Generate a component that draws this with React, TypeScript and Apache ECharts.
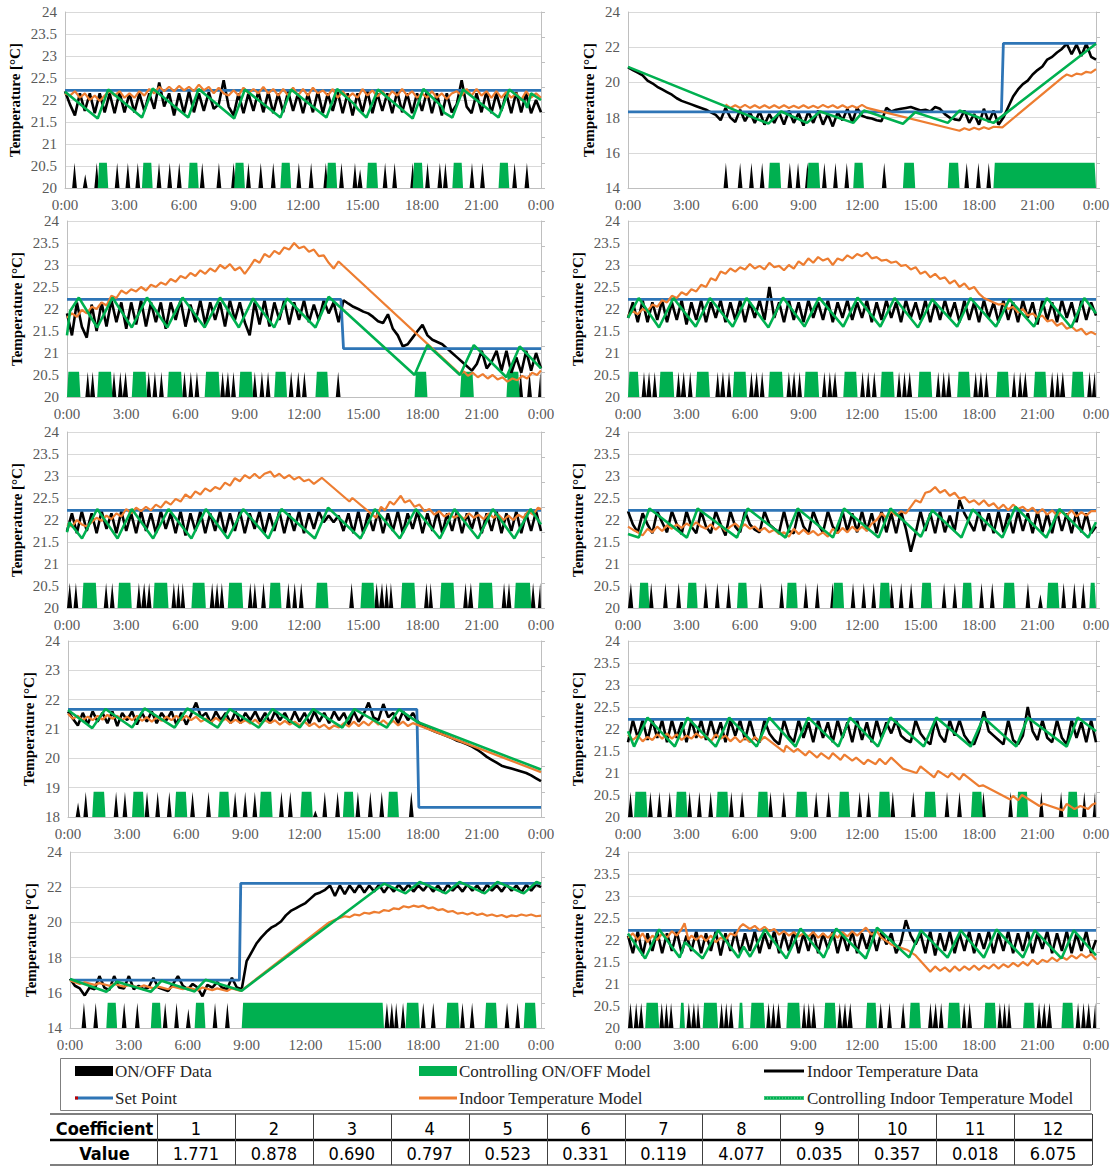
import React, { useEffect, useRef } from 'react';
import * as echarts from 'echarts';

// ---------------- DATA (hours 0..24) ----------------
// Black series: values every 0.25 h
const p1Black = [
  22.2, 21.9, 21.65, 22.15, 21.75, 22.15, 21.7, 22.15,
  21.72, 22.15, 21.7, 22.18, 21.72, 22.15, 21.72, 22.15,
  21.75, 22.15, 21.8, 22.4, 21.85, 22.15, 21.65, 22.15,
  21.7, 22.2, 21.72, 22.15, 21.75, 22.18, 21.8, 21.9,
  22.45, 21.85, 21.65, 22.15, 21.7, 22.15, 21.75, 22.2,
  21.72, 22.18, 21.7, 22.15, 21.72, 22.2, 21.75, 22.15,
  21.7, 22.15, 21.72, 22.2, 21.7, 22.15, 21.75, 22.18,
  21.7, 22.15, 21.65, 22.15, 21.72, 22.2, 21.7, 22.15,
  21.75, 22.15, 21.7, 22.2, 21.72, 22.15, 21.7, 22.15,
  21.75, 22.2, 21.7, 22.15, 21.65, 22.15, 21.72, 21.9,
  22.45, 21.85, 21.7, 22.15, 21.72, 22.2, 21.7, 22.15,
  21.75, 22.15, 21.7, 22.18, 21.72, 22.15, 21.7, 22.0,
  21.72,
];
const p2Black = [
  20.85, 20.7, 20.55, 20.4, 20.1, 19.95, 19.75, 19.6,
  19.45, 19.3, 19.1, 18.95, 18.85, 18.75, 18.65, 18.55,
  18.45, 18.3, 18.15, 17.85, 18.55, 18.0, 17.75, 18.45,
  17.8, 18.3, 17.7, 18.35, 17.6, 18.2, 17.7, 18.3,
  17.6, 18.4, 17.7, 18.25, 17.55, 18.35, 17.7, 18.4,
  17.6, 18.2, 17.5, 18.3, 17.85, 18.5, 17.75, 18.55,
  18.1, 18.0, 17.95, 17.85, 17.8, 18.55, 18.35, 18.45,
  18.5, 18.55, 18.6, 18.5, 18.4, 18.45, 18.35, 18.6,
  18.5, 18.2, 18.0, 17.9, 17.85, 18.4, 17.7, 18.2,
  17.6, 18.5, 17.75, 18.4, 17.6, 18.0, 18.6, 19.2,
  19.6, 19.9, 20.1, 20.45, 20.7, 20.9, 21.3, 21.45,
  21.7, 21.9, 22.2, 21.6, 22.15, 21.5, 22.2, 21.45,
  21.3,
];
const p3Black = [
  21.9, 21.4, 22.15, 21.6, 21.35, 22.1, 21.5, 22.15,
  21.6, 22.2, 21.7, 22.15, 21.55, 22.15, 21.65, 22.2,
  21.6, 22.15, 21.7, 22.15, 21.55, 22.15, 21.75, 22.2,
  21.6, 22.1, 21.7, 22.2, 21.65, 22.15, 21.75, 22.15,
  21.6, 22.2, 21.75, 22.15, 21.7, 21.4, 22.15, 21.65,
  22.2, 21.6, 22.15, 21.75, 22.2, 21.65, 22.15, 21.75,
  22.2, 21.7, 22.1, 21.75, 22.2, 21.9, 22.15, 21.7,
  22.2, 22.12, 22.05, 22.0, 21.94, 21.9, 21.82, 21.72,
  21.68, 21.88, 21.55, 21.4, 21.15, 21.2, 21.35, 21.5,
  21.64, 21.4, 21.3, 21.25, 21.2, 21.1, 21.0, 20.9,
  20.8, 20.7, 20.6, 20.75, 21.05, 20.65, 20.8, 21.05,
  20.6, 21.05, 20.55, 20.9, 20.55, 21.05, 20.6, 21.0,
  20.65,
];
const p4Black = [
  21.8, 22.15, 21.7, 22.2, 21.7, 22.15, 21.75, 22.2,
  21.7, 22.15, 21.75, 22.2, 21.65, 22.15, 21.75, 22.2,
  21.7, 22.15, 21.8, 22.2, 21.7, 22.15, 21.75, 22.2,
  21.7, 22.15, 21.8, 22.2, 21.75, 22.5, 21.8, 22.15,
  21.7, 22.2, 21.75, 22.15, 21.7, 22.2, 21.8, 22.15,
  21.75, 22.2, 21.7, 22.15, 21.8, 22.2, 21.75, 22.15,
  21.8, 22.2, 21.7, 22.15, 21.75, 22.2, 21.8, 22.15,
  21.7, 22.2, 21.8, 22.15, 21.75, 22.2, 21.7, 22.15,
  21.75, 22.2, 21.8, 22.15, 21.7, 22.2, 21.75, 22.15,
  21.7, 22.2, 21.8, 22.15, 21.7, 22.2, 21.75, 22.15,
  21.7, 22.2, 21.8, 22.15, 21.65, 22.2, 21.75, 22.15,
  21.7, 22.2, 21.8, 22.15, 21.7, 22.2, 21.75, 22.15,
  21.85,
];
const p5Black = [
  21.75, 22.15, 21.7, 22.2, 21.75, 22.15, 21.7, 22.2,
  21.8, 22.15, 21.7, 22.2, 21.75, 22.15, 21.7, 22.2,
  21.75, 22.15, 21.7, 22.2, 21.8, 22.15, 21.7, 22.2,
  21.65, 22.15, 21.75, 22.2, 21.7, 22.15, 21.75, 22.2,
  21.7, 22.15, 21.75, 22.2, 21.7, 22.15, 21.8, 22.2,
  21.7, 22.15, 21.75, 22.2, 21.7, 22.15, 21.75, 22.2,
  21.7, 22.15, 21.8, 22.2, 21.95, 22.1, 21.95, 22.1,
  21.75, 22.15, 21.7, 22.2, 21.7, 22.15, 21.75, 22.2,
  21.7, 22.15, 21.75, 22.2, 21.7, 22.15, 21.8, 22.2,
  21.7, 22.15, 21.75, 22.2, 21.7, 22.15, 21.75, 22.2,
  21.7, 22.15, 21.8, 22.2, 21.7, 22.15, 21.75, 22.2,
  21.7, 22.15, 21.75, 22.2, 21.7, 22.15, 21.75, 22.2,
  21.75,
];
const p6Black = [
  22.2, 21.9, 21.72, 22.15, 21.9, 21.7, 22.2, 21.95,
  21.72, 22.2, 21.9, 21.68, 22.2, 21.85, 21.7, 22.2,
  21.85, 21.7, 22.2, 21.9, 21.65, 22.2, 21.85, 21.72,
  22.2, 21.9, 21.78, 21.72, 22.2, 21.9, 21.8, 21.72,
  22.2, 21.75, 21.7, 22.2, 21.85, 21.7, 22.2, 21.9,
  21.72, 22.2, 21.85, 21.7, 22.2, 21.75, 22.15, 21.72,
  22.2, 21.75, 22.15, 21.7, 22.2, 21.72, 22.15, 21.7,
  22.2, 21.8, 21.28, 21.7, 22.2, 21.75, 22.15, 21.7,
  22.2, 21.72, 22.1, 21.75, 22.45, 22.15, 21.95, 21.75,
  22.2, 21.75, 22.15, 21.7, 22.2, 21.72, 22.15, 21.7,
  22.2, 21.75, 22.15, 21.7, 22.2, 21.72, 22.15, 21.7,
  22.2, 21.75, 22.15, 21.7, 22.2, 21.72, 22.15, 21.7,
  21.85,
];
const p7Black = [
  21.6, 21.35, 21.12, 21.55, 21.15, 21.6, 21.25, 21.55,
  21.2, 21.6, 21.1, 21.55, 21.3, 21.6, 21.15, 21.55,
  21.25, 21.6, 21.2, 21.55, 21.3, 21.6, 21.15, 21.55,
  21.15, 21.5, 21.9, 21.4, 21.55, 21.2, 21.6, 21.3,
  21.55, 21.2, 21.6, 21.2, 21.55, 21.3, 21.6, 21.25,
  21.55, 21.2, 21.6, 21.3, 21.55, 21.2, 21.6, 21.25,
  21.55, 21.2, 21.6, 21.25, 21.55, 21.2, 21.6, 21.3,
  21.55, 21.15, 21.6, 21.25, 21.5, 21.9, 21.4, 21.3,
  21.85, 21.4, 21.55, 21.2, 21.6, 21.3, 21.55, 21.25,
  21.1, 21.02, 20.95, 20.88, 20.82, 20.75, 20.68, 20.6,
  20.55, 20.48, 20.4, 20.3, 20.18, 20.05, 19.95, 19.85,
  19.75, 19.7, 19.65, 19.6, 19.55, 19.5, 19.42, 19.32,
  19.22,
];
const p8Black = [
  21.7, 22.2, 21.8, 22.2, 21.75, 22.2, 21.8, 22.2,
  21.7, 22.2, 21.8, 22.15, 21.7, 22.2, 21.8, 22.2,
  21.75, 22.2, 21.8, 22.15, 21.7, 22.2, 21.85, 22.2,
  21.75, 22.2, 21.8, 21.7, 22.2, 21.9, 21.75, 21.65,
  22.2, 21.85, 21.7, 22.2, 21.8, 22.15, 21.7, 22.2,
  21.8, 22.15, 21.7, 22.2, 21.8, 22.15, 21.7, 22.2,
  21.75, 22.15, 21.7, 22.2, 21.8, 22.15, 21.9, 22.2,
  21.85, 21.75, 21.7, 22.2, 21.9, 21.75, 21.65, 22.2,
  21.85, 21.7, 22.2, 21.85, 22.2, 21.85, 21.7, 21.65,
  21.95, 22.4, 21.95, 21.85, 21.75, 21.65, 22.2, 21.75,
  21.65, 21.85, 22.5, 21.95, 21.75, 22.2, 21.8, 21.7,
  22.2, 21.8, 21.65, 22.2, 21.8, 22.15, 21.7, 22.2,
  21.7,
];
const p9Black = [
  16.8, 16.4, 16.25, 15.85, 16.3, 16.2, 16.95, 16.3,
  16.15, 16.95, 16.3, 16.25, 16.95, 16.2, 16.4, 16.2,
  16.3, 16.85, 16.3, 16.2, 16.1, 16.5, 16.95, 16.4,
  16.2, 16.5, 16.3, 15.8, 16.45, 16.3, 16.6, 16.3,
  16.2, 16.85, 16.3, 16.2, 17.8, 18.3, 18.8, 19.15,
  19.45, 19.7, 19.85, 20.05, 20.4, 20.65, 20.8, 20.95,
  21.1, 21.35, 21.6, 21.7, 21.85, 22.1, 21.5, 22.1,
  21.6, 22.1, 21.7, 22.15, 21.7, 22.1, 21.75, 22.15,
  21.7, 22.1, 21.75, 22.15, 21.8, 22.15, 21.75, 22.1,
  21.8, 22.15, 21.75, 22.1, 21.7, 22.15, 21.8, 22.1,
  21.75, 22.15, 21.8, 22.1, 21.7, 22.15, 21.8, 22.1,
  21.75, 22.15, 21.8, 22.1, 21.7, 22.15, 21.8, 22.15,
  22.0,
];
const p10Black = [
  22.1, 21.7, 22.2, 21.65, 22.15, 21.75, 22.2, 21.7,
  22.15, 21.75, 22.2, 21.7, 22.1, 21.75, 22.2, 21.7,
  22.15, 21.75, 22.2, 21.65, 22.15, 21.75, 22.2, 21.7,
  22.15, 21.75, 22.2, 21.7, 22.15, 21.8, 22.2, 21.7,
  22.15, 21.75, 22.2, 21.7, 22.15, 21.75, 22.2, 21.7,
  22.15, 21.8, 22.2, 21.7, 22.15, 21.75, 22.2, 21.7,
  22.15, 21.8, 22.2, 21.75, 22.2, 21.9, 22.15, 21.7,
  21.95, 22.45, 22.1, 21.9, 22.15, 21.7, 22.2, 21.65,
  22.15, 21.75, 22.2, 21.7, 22.15, 21.75, 22.2, 21.7,
  22.15, 21.8, 22.2, 21.7, 22.15, 21.75, 22.2, 21.7,
  22.15, 21.75, 22.2, 21.7, 22.15, 21.8, 22.2, 21.7,
  22.15, 21.75, 22.2, 21.7, 22.15, 21.75, 22.2, 21.7,
  22.0,
];

// Orange (Indoor Temperature Model)
const p1Orange = [
  22.15, 22.1, 22.2, 22.05, 22.15, 22.0, 22.1, 21.98,
  22.1, 22.2, 22.1, 22.2, 22.05, 22.15, 22.05, 22.2,
  22.1, 22.25, 22.15, 22.3, 22.2, 22.3, 22.2, 22.32,
  22.22, 22.3, 22.2, 22.35, 22.22, 22.3, 22.15, 22.28,
  22.15, 22.1, 22.22, 22.1, 22.28, 22.15, 22.25, 22.15,
  22.3, 22.15, 22.25, 22.1, 22.25, 22.1, 22.28, 22.1,
  22.25, 22.1, 22.28, 22.15, 22.22, 22.1, 22.25, 22.05,
  22.2, 22.05, 22.15, 22.05, 22.25, 22.1, 22.22, 22.08,
  22.2, 22.05, 22.2, 22.1, 22.25, 22.1, 22.2, 22.05,
  22.15, 22.05, 22.2, 22.05, 22.15, 22.02, 22.15, 22.2,
  22.1, 22.25, 22.1, 22.25, 22.1, 22.2, 22.05, 22.2,
  22.05, 22.18, 22.05, 22.15, 22.0, 22.2, 22.05, 22.15,
  22.05,
];
const p2Orange = [
  [5, 18.75], [5.25, 18.55], [5.5, 18.7], [5.75, 18.55], [6, 18.72], [6.25, 18.55], [6.5, 18.7], [6.75, 18.55],
  [7, 18.7], [7.25, 18.55], [7.5, 18.7], [7.75, 18.55], [8, 18.7], [8.25, 18.55], [8.5, 18.68], [8.75, 18.55],
  [9, 18.7], [9.25, 18.55], [9.5, 18.68], [9.75, 18.55], [10, 18.72], [10.25, 18.58], [10.5, 18.7], [10.75, 18.55],
  [11, 18.7], [11.25, 18.55], [11.5, 18.68], [11.75, 18.55], [12, 18.72], [12.25, 18.55], [17, 17.25], [17.25, 17.4],
  [17.5, 17.3], [17.75, 17.42], [18, 17.32], [18.25, 17.45], [18.5, 17.35], [18.75, 17.48], [19.2, 17.45], [22.3, 20.3],
  [22.5, 20.45], [22.75, 20.35], [23, 20.5], [23.25, 20.45], [23.5, 20.6], [23.75, 20.55], [24, 20.75],
];
const p3Orange = [
  [0, 21.8], [0.25, 21.9], [0.5, 21.82], [0.75, 21.98], [1, 21.9], [1.25, 22.05], [1.5, 22.0], [1.75, 22.15],
  [2, 22.08], [2.25, 22.3], [2.5, 22.25], [2.75, 22.42], [3, 22.35], [3.25, 22.45], [3.5, 22.4], [3.75, 22.5],
  [4, 22.42], [4.25, 22.55], [4.5, 22.5], [4.75, 22.6], [5, 22.55], [5.25, 22.68], [5.5, 22.62], [5.75, 22.75],
  [6, 22.7], [6.25, 22.82], [6.5, 22.75], [6.75, 22.88], [7, 22.8], [7.25, 22.92], [7.5, 22.85], [7.75, 23.0],
  [8, 22.92], [8.25, 23.02], [8.5, 22.88], [8.75, 22.95], [9, 22.8], [9.25, 22.95], [9.5, 23.12], [9.75, 23.05],
  [10, 23.25], [10.25, 23.18], [10.5, 23.32], [10.75, 23.25], [11, 23.4], [11.25, 23.35], [11.5, 23.5], [11.75, 23.38],
  [12, 23.42], [12.25, 23.3], [12.5, 23.35], [12.75, 23.2], [13, 23.22], [13.25, 23.05], [13.5, 22.92], [13.75, 23.08],
  [19.9, 20.52], [20.1, 20.58], [20.3, 20.48], [20.55, 20.55], [20.8, 20.45], [21.05, 20.52], [21.3, 20.42], [21.55, 20.5],
  [21.8, 20.4], [22.05, 20.45], [22.3, 20.35], [22.55, 20.42], [22.8, 20.38], [23.05, 20.48], [23.3, 20.42], [23.55, 20.55],
  [23.8, 20.5], [24, 20.6],
];
const p4Orange = [
  21.85, 21.95, 21.88, 22.0, 21.95, 22.1, 22.05, 22.2,
  22.15, 22.3, 22.25, 22.38, 22.32, 22.45, 22.4, 22.55,
  22.5, 22.7, 22.65, 22.85, 22.8, 22.92, 22.85, 22.95,
  22.9, 23.02, 22.92, 22.98, 22.9, 23.05, 22.95, 22.98,
  22.88, 23.0, 22.92, 23.08, 23.0, 23.15, 23.05, 23.18,
  23.1, 23.15, 23.0, 23.15, 23.1, 23.22, 23.15, 23.25,
  23.2, 23.28, 23.15, 23.18, 23.1, 23.12, 23.05, 23.08,
  22.98, 23.0, 22.9, 22.95, 22.8, 22.85, 22.72, 22.8,
  22.68, 22.72, 22.58, 22.65, 22.5, 22.58, 22.45, 22.5,
  22.35, 22.25, 22.2, 22.15, 22.1, 22.12, 22.0, 22.05,
  21.92, 22.0, 21.85, 21.9, 21.8, 21.85, 21.72, 21.75,
  21.62, 21.68, 21.55, 21.6, 21.5, 21.55, 21.42, 21.48,
  21.42,
];
const p5Orange = [
  [0, 21.9], [0.25, 21.85], [0.5, 22.0], [0.75, 21.9], [1, 21.85], [1.25, 21.95], [1.5, 22.05], [1.75, 21.98],
  [2, 22.1], [2.25, 22.02], [2.5, 22.15], [2.75, 22.08], [3, 22.25], [3.25, 22.15], [3.5, 22.28], [3.75, 22.2],
  [4, 22.3], [4.25, 22.22], [4.5, 22.35], [4.75, 22.28], [5, 22.42], [5.25, 22.35], [5.5, 22.48], [5.75, 22.42],
  [6, 22.58], [6.25, 22.5], [6.5, 22.65], [6.75, 22.58], [7, 22.72], [7.25, 22.65], [7.5, 22.75], [7.75, 22.7],
  [8, 22.85], [8.25, 22.78], [8.5, 22.95], [8.75, 22.88], [9, 23.02], [9.25, 22.95], [9.5, 23.05], [9.75, 22.95],
  [10, 23.05], [10.3, 23.1], [10.5, 22.98], [10.75, 23.05], [11, 22.95], [11.25, 23.02], [11.5, 22.92], [11.75, 22.98],
  [12, 22.88], [12.25, 22.92], [12.5, 22.82], [12.9, 22.96], [14.3, 22.42], [14.45, 22.5], [15.65, 22.05], [15.9, 22.3],
  [16.1, 22.22], [16.35, 22.42], [16.55, 22.35], [16.9, 22.55], [17.1, 22.4], [17.35, 22.45], [17.6, 22.3], [17.85, 22.35],
  [18.1, 22.2], [18.35, 22.25], [18.6, 22.12], [18.85, 22.2], [19.1, 22.08], [19.35, 22.15], [19.6, 22.05], [19.85, 22.12],
  [20.1, 22.02], [20.35, 22.15], [20.6, 22.05], [20.85, 22.12], [21.1, 22.02], [21.35, 22.15], [21.6, 22.05], [21.85, 22.12],
  [22.1, 22.0], [22.35, 22.1], [22.6, 22.0], [22.85, 22.12], [23.1, 22.05], [23.35, 22.2], [23.6, 22.12], [23.85, 22.28],
  [24, 22.25],
];
const p6Orange = [
  21.85, 21.78, 21.72, 21.65, 21.8, 21.72, 21.85, 21.75,
  21.88, 21.8, 21.9, 21.82, 21.92, 21.85, 21.95, 21.85,
  21.8, 21.9, 21.78, 21.88, 21.75, 21.85, 21.92, 21.82,
  21.9, 21.8, 21.85, 21.75, 21.82, 21.72, 21.78, 21.68,
  21.72, 21.62, 21.8, 21.68, 21.78, 21.68, 21.75, 21.65,
  21.72, 21.62, 21.8, 21.7, 21.82, 21.72, 21.85, 21.75,
  21.85, 21.75, 21.92, 22.0, 22.15, 22.05, 22.2, 22.1,
  22.2, 22.15, 22.3, 22.45, 22.4, 22.62, 22.65, 22.75,
  22.62, 22.68, 22.55, 22.62, 22.48, 22.52, 22.4, 22.45,
  22.35, 22.45, 22.32, 22.38, 22.25, 22.35, 22.22, 22.35,
  22.25, 22.3, 22.2, 22.28, 22.15, 22.25, 22.12, 22.22,
  22.1, 22.2, 22.1, 22.22, 22.08, 22.18, 22.1, 22.2,
  22.2,
];
const p7Orange = [
  [0, 21.52], [0.25, 21.35], [0.5, 21.45], [0.75, 21.3], [1, 21.42], [1.25, 21.3], [1.5, 21.45], [1.75, 21.32],
  [2, 21.48], [2.25, 21.35], [2.5, 21.45], [2.75, 21.3], [3, 21.42], [3.25, 21.3], [3.5, 21.45], [3.75, 21.28],
  [4, 21.4], [4.25, 21.25], [4.5, 21.4], [4.75, 21.28], [5, 21.42], [5.25, 21.3], [5.5, 21.45], [5.75, 21.3],
  [6, 21.45], [6.25, 21.3], [6.5, 21.42], [6.75, 21.25], [7, 21.35], [7.25, 21.22], [7.5, 21.38], [7.75, 21.25],
  [8, 21.35], [8.25, 21.2], [8.5, 21.32], [8.75, 21.2], [9, 21.3], [9.25, 21.18], [9.5, 21.32], [9.75, 21.15],
  [10, 21.3], [10.25, 21.2], [10.5, 21.3], [10.75, 21.15], [11, 21.28], [11.25, 21.15], [11.5, 21.25], [11.75, 21.12],
  [12, 21.25], [12.25, 21.1], [12.5, 21.2], [12.75, 21.05], [13, 21.15], [13.25, 21.0], [13.5, 21.12], [13.75, 21.05],
  [14, 21.2], [14.25, 21.08], [14.5, 21.25], [14.75, 21.1], [15, 21.25], [15.25, 21.12], [15.5, 21.3], [15.75, 21.15],
  [16, 21.3], [16.25, 21.15], [16.5, 21.28], [16.75, 21.12], [17, 21.25], [17.25, 21.1], [17.5, 21.2], [17.7, 21.15],
  [24, 19.53],
];
const p8Orange = [
  [0, 21.87], [0.25, 21.75], [0.5, 21.85], [0.75, 21.72], [1, 21.82], [1.25, 21.75], [1.5, 21.88], [1.75, 21.78],
  [2, 21.9], [2.25, 21.78], [2.5, 21.88], [2.75, 21.75], [3, 21.85], [3.25, 21.78], [3.5, 21.9], [3.75, 21.8],
  [4, 21.85], [4.25, 21.72], [4.5, 21.88], [4.75, 21.78], [5, 21.85], [5.25, 21.72], [5.5, 21.82], [5.75, 21.7],
  [6, 21.8], [6.25, 21.7], [6.5, 21.82], [6.75, 21.72], [7, 21.82], [7.5, 21.65], [8, 21.48], [8.1, 21.62],
  [8.5, 21.48], [8.7, 21.55], [9.1, 21.4], [9.3, 21.5], [9.7, 21.35], [9.9, 21.45], [10.3, 21.32], [10.5, 21.45],
  [10.9, 21.3], [11.1, 21.42], [11.5, 21.28], [11.7, 21.35], [12.1, 21.2], [12.3, 21.3], [12.7, 21.2], [12.9, 21.32],
  [13.2, 21.2], [13.5, 21.35], [14.1, 21.1], [14.8, 21.0], [15.0, 21.15], [15.7, 20.9], [15.9, 21.05], [16.4, 20.9],
  [16.6, 21.0], [17.0, 20.85], [17.2, 20.98], [18.0, 20.7], [18.2, 20.72], [19.6, 20.4], [19.75, 20.48], [20.0, 20.38],
  [20.2, 20.5], [21.1, 20.25], [21.3, 20.3], [22.3, 20.15], [22.5, 20.3], [22.9, 20.18], [23.2, 20.25], [23.6, 20.18],
  [23.8, 20.28], [24, 20.32],
];
const p9Orange = [
  [0, 16.7], [0.5, 16.5], [0.75, 16.6], [1.25, 16.45], [1.5, 16.55], [2, 16.4], [2.25, 16.5], [2.75, 16.35],
  [3, 16.45], [3.5, 16.3], [3.75, 16.42], [4.25, 16.25], [4.5, 16.35], [5, 16.2], [5.25, 16.35], [5.75, 16.2],
  [6, 16.3], [6.5, 16.15], [6.75, 16.3], [7.25, 16.15], [7.5, 16.25], [8, 16.1], [8.25, 16.25], [8.7, 16.1],
  [13.2, 20.0], [13.5, 20.15], [13.75, 20.25], [14, 20.35], [14.25, 20.3], [14.5, 20.45], [14.75, 20.4], [15, 20.55],
  [15.25, 20.5], [15.5, 20.6], [15.75, 20.55], [16, 20.7], [16.25, 20.65], [16.5, 20.8], [16.75, 20.75], [17, 20.92],
  [17.25, 20.85], [17.5, 20.95], [17.75, 20.88], [18, 20.95], [18.25, 20.8], [18.5, 20.85], [18.75, 20.7], [19, 20.75],
  [19.25, 20.6], [19.5, 20.65], [19.75, 20.5], [20, 20.55], [20.25, 20.45], [20.5, 20.55], [20.75, 20.42], [21, 20.5],
  [21.25, 20.38], [21.5, 20.45], [21.75, 20.35], [22, 20.42], [22.25, 20.3], [22.5, 20.4], [22.75, 20.35], [23, 20.45],
  [23.25, 20.38], [23.5, 20.45], [23.75, 20.35], [24, 20.38],
];
const p10Orange = [
  [0, 22.05], [0.25, 22.15], [0.5, 22.0], [0.75, 22.15], [1, 21.95], [1.25, 22.1], [1.5, 22.0], [1.75, 22.15],
  [2, 22.05], [2.25, 22.2], [2.5, 22.1], [2.75, 22.25], [2.9, 22.38], [3.1, 22.0], [3.25, 22.1], [3.5, 22.0],
  [3.75, 22.1], [4, 21.98], [4.25, 22.1], [4.5, 21.95], [4.75, 22.05], [5, 22.0], [5.25, 22.15], [5.5, 22.1],
  [5.75, 22.3], [5.9, 22.36], [6.25, 22.25], [6.5, 22.32], [6.75, 22.22], [7, 22.3], [7.25, 22.2], [7.5, 22.25],
  [7.75, 22.12], [8, 22.2], [8.25, 22.1], [8.5, 22.18], [8.75, 22.08], [9, 22.15], [9.25, 22.08], [9.5, 22.18],
  [9.75, 22.05], [10, 22.15], [10.25, 22.05], [10.5, 22.15], [10.75, 22.05], [11, 22.18], [11.25, 22.08], [11.5, 22.2],
  [11.75, 22.1], [12, 22.2], [12.2, 22.28], [12.5, 22.12], [12.75, 22.2], [13, 22.05], [13.5, 21.9], [13.75, 21.85],
  [14, 21.82], [14.3, 21.78], [14.75, 21.65], [15.5, 21.28], [15.75, 21.4], [16, 21.3], [16.25, 21.38], [16.5, 21.28],
  [16.75, 21.4], [17, 21.3], [17.25, 21.4], [17.5, 21.32], [17.75, 21.42], [18, 21.32], [18.25, 21.42], [18.5, 21.35],
  [18.75, 21.45], [19, 21.35], [19.25, 21.45], [19.5, 21.38], [19.75, 21.48], [20, 21.4], [20.25, 21.5], [20.5, 21.42],
  [20.75, 21.55], [21, 21.45], [21.25, 21.55], [21.5, 21.5], [21.75, 21.6], [22, 21.52], [22.25, 21.62], [22.5, 21.55],
  [22.75, 21.65], [23, 21.58], [23.25, 21.68], [23.5, 21.6], [23.75, 21.68], [24, 21.55],
];

// Green (Controlling Indoor Temperature Model) vertices
const p1Green = [[0, 22.19], [1.65, 21.58], [2.18, 22.24], [3.88, 21.6], [4.42, 22.26], [6.21, 21.6], [6.74, 22.25], [8.53, 21.58], [9.07, 22.24], [10.86, 21.6], [11.4, 22.24], [13.18, 21.6], [13.72, 22.25], [14.6, 21.9], [14.75, 21.8], [15.2, 21.6], [15.78, 22.24], [17.53, 21.58], [18.07, 22.25], [19.0, 21.85], [19.1, 21.72], [19.53, 21.6], [20.07, 22.24], [21.86, 21.6], [22.4, 22.24], [23.2, 21.95], [23.3, 21.82], [23.5, 22.15], [24, 22.0]];
const p2Green = [[0, 20.88], [7.2, 17.66], [7.85, 18.35], [9.18, 17.7], [9.85, 18.35], [11.55, 17.7], [12.1, 18.4], [14.1, 17.65], [14.73, 18.3], [16.4, 17.7], [17.0, 18.4], [18.74, 17.7], [24, 22.2]];
const p3Green = [[0, 21.4], [0.15, 21.95], [0.6, 22.26], [1.53, 21.58], [2.3, 22.26], [3.28, 21.58], [4.05, 22.26], [5.08, 21.58], [5.85, 22.26], [6.97, 21.58], [7.75, 22.26], [8.7, 21.58], [9.42, 22.24], [10.49, 21.58], [11.14, 22.24], [12.58, 21.58], [13.25, 22.28], [17.6, 20.5], [18.25, 21.18], [19.9, 20.5], [20.6, 21.18], [22.25, 20.45], [22.92, 21.15], [24, 20.65]];
const p4Green = [[0, 21.8], [0.55, 22.25], [1.59, 21.58], [2.33, 22.25], [3.47, 21.6], [4.2, 22.25], [5.37, 21.6], [6.08, 22.25], [7.2, 21.58], [7.95, 22.26], [9.05, 21.6], [9.8, 22.26], [11.04, 21.6], [11.77, 22.26], [12.94, 21.6], [13.67, 22.25], [14.87, 21.58], [15.6, 22.22], [16.88, 21.6], [17.56, 22.25], [18.87, 21.6], [19.56, 22.22], [20.82, 21.6], [21.48, 22.25], [22.73, 21.58], [23.4, 22.25], [24, 21.9]];
const p5Green = [[0, 21.72], [0.12, 21.95], [0.76, 21.58], [1.53, 22.25], [2.56, 21.58], [3.28, 22.25], [4.36, 21.58], [5.14, 22.25], [6.3, 21.58], [7.03, 22.25], [8.14, 21.58], [8.92, 22.25], [10.2, 21.58], [10.86, 22.25], [12.55, 21.58], [13.22, 22.28], [14.86, 21.58], [15.59, 22.25], [16.85, 21.58], [17.66, 22.25], [18.88, 21.58], [19.62, 22.25], [20.81, 21.58], [21.56, 22.25], [22.65, 21.58], [23.48, 22.25], [24, 21.9]];
const p6Green = [[0, 21.68], [0.55, 21.6], [1.1, 22.26], [3.02, 21.6], [3.57, 22.26], [5.59, 21.6], [6.14, 22.26], [8.08, 21.6], [8.7, 22.26], [10.51, 21.6], [11.08, 22.26], [12.85, 21.6], [13.46, 22.26], [15.02, 21.62], [15.6, 22.22], [17.1, 21.6], [17.67, 22.24], [19.2, 21.6], [19.87, 22.3], [21.45, 21.6], [22.12, 22.25], [23.6, 21.6], [24, 21.95]];
const p7Green = [[0, 21.65], [1.23, 21.03], [1.9, 21.68], [3.25, 21.05], [3.88, 21.7], [5.41, 21.05], [6.05, 21.7], [7.6, 21.05], [8.21, 21.68], [9.68, 21.05], [10.38, 21.68], [11.76, 21.05], [12.44, 21.68], [13.92, 21.05], [14.53, 21.68], [16.18, 21.05], [16.79, 21.67], [17.7, 21.25], [24, 19.62]];
const p8Green = [[0, 21.95], [0.31, 21.6], [1.0, 22.26], [2.4, 21.6], [3.05, 22.26], [4.5, 21.6], [5.19, 22.26], [6.6, 21.6], [7.25, 22.26], [8.59, 21.6], [9.25, 22.26], [10.79, 21.6], [11.39, 22.26], [12.82, 21.6], [13.46, 22.26], [15.17, 21.6], [15.81, 22.26], [17.57, 21.6], [18.23, 22.26], [19.91, 21.6], [20.5, 22.26], [22.5, 21.6], [23.06, 22.26], [24, 21.95]];
const p9Green = [[0, 16.78], [1.85, 16.06], [2.4, 16.63], [4.12, 16.06], [4.66, 16.68], [6.35, 16.08], [6.9, 16.74], [8.75, 16.12], [16.0, 22.2], [17.1, 21.65], [17.82, 22.3], [19.15, 21.65], [19.85, 22.3], [21.13, 21.65], [21.78, 22.3], [23.12, 21.65], [23.77, 22.3], [24, 22.2]];
const p10Green = [[0, 22.15], [0.88, 21.58], [1.6, 22.24], [2.65, 21.6], [2.92, 21.95], [3.83, 21.58], [4.62, 22.22], [5.66, 21.6], [5.93, 21.85], [6.26, 21.62], [7.03, 22.24], [8.12, 21.58], [8.85, 22.26], [10.04, 21.6], [10.68, 22.26], [12.19, 21.58], [12.77, 22.28], [14.42, 21.6], [15.02, 22.22], [16.39, 21.6], [17.06, 22.22], [18.25, 21.6], [18.89, 22.24], [20.26, 21.6], [20.86, 22.22], [22.23, 21.58], [22.86, 22.22], [24, 21.65]];

// Set points
const spConstant = [[0, 22.22], [24, 22.22]];
const p2Set = [[0, 18.33], [19.15, 18.33], [19.25, 22.22], [24, 22.22]];
const p3Set = [[0, 22.22], [13.87, 22.22], [14.0, 21.1], [24, 21.1]];
const p7Set = [[0, 21.67], [17.7, 21.67], [17.8, 18.33], [24, 18.33]];
const p9Set = [[0, 16.72], [8.63, 16.72], [8.7, 22.22], [24, 22.22]];

// ON/OFF Data: ON moments (hour) or [hour, fraction of ON]
const p1Spikes = [0.48, [1.02, 0.55], 1.6, 2.63, 3.17, 3.67, 4.74, 5.28, 5.76, 6.92, 7.76, 8.5, 9.25, 9.87, 10.5, 11.79, 12.41, 13.15, 13.94, 14.62, [14.88, 0.75], 16.14, 16.62, 17.53, 18.28, 18.9, 19.18, 20.52, 21.05, 22.67, 23.29];
const p2Spikes = [5.02, 5.75, 6.33, 6.88, 8.3, 8.72, 9.2, 10.07, 10.64, 11.22, 13.14, 17.37, 17.97, 18.5];
const p3Spikes = [0.27, 1.05, 1.3, 2.38, 2.7, 2.97, 4.14, 4.45, 4.78, 5.95, 6.27, 6.58, 7.88, 8.15, 8.43, 9.51, 9.87, 10.18, 11.35, 11.71, 12.02, 13.73, 22.97, 23.42, 23.97];
const p4Spikes = [0.82, 1.08, 1.37, 2.59, 2.86, 3.19, 4.6, 4.87, 5.18, 6.33, 6.6, 6.88, 8.25, 8.52, 8.8, 10.07, 10.35, 10.62, 12.03, 12.32, 12.63, 13.9, 14.18, 14.45, 15.91, 16.19, 16.46, 17.83, 18.1, 18.38, 19.8, 20.11, 20.38, 21.75, 22.03, 22.3, 23.67, 23.94];
const p5Spikes = [0.14, 0.45, 1.98, 2.29, 3.64, 3.91, 4.16, 5.41, 5.64, 5.86, 7.35, 7.6, 7.84, 9.28, 9.51, 9.95, 11.21, 11.53, 11.86, 14.41, 15.68, 15.95, 16.18, 16.4, 18.2, 18.41, 20.18, 20.45, 22.13, 22.38, 23.6, 23.96];
const p6Spikes = [0.15, 1.19, 1.92, 2.6, 3.99, 4.58, 5.16, 6.81, 7.88, 9.12, 9.71, 10.49, 11.54, 12.09, 12.6, 13.52, 14.01, 14.52, 16.21, 16.76, 18.13, 18.68, 20.51, [21.15, 0.55], 22.34, 22.89, 23.35];
const p7Spikes = [[0.51, 0.58], 0.9, 2.44, 2.89, 4.01, 4.55, 5.14, 6.32, 7.13, 8.48, 8.99, 9.48, 10.83, 11.28, [12.55, 0.26], 13.03, 13.68, 14.71, 15.34, 15.92, 17.42];
const p8Spikes = [0.13, 1.15, 1.61, 2.14, 3.16, 3.66, 4.24, 5.3, 5.85, 7.31, 7.99, 9.65, 10.29, 11.88, 12.34, 13.58, 14.63, 16.36, 17.0, 18.23, 19.62, 21.2, 22.21, 23.4, 23.95];
const p9Spikes = [0.71, 1.31, 2.76, 3.43, 4.85, 5.43, [6.03, 0.77], 7.39, 8.02, 16.15, 16.4, 16.62, 16.97, 18.0, 18.51, 20.0, 20.49, 22.27, 22.81];
const p10Spikes = [0.13, 0.42, 0.68, 1.73, 1.97, 2.21, 3.12, 3.38, 3.59, 4.8, 5.04, 5.29, 7.21, 7.46, 7.72, 9.03, 9.27, 9.53, 10.86, 11.13, 11.4, 12.96, 13.41, 14.11, 15.51, 15.78, 16.06, 17.24, 17.52, 19.07, 19.31, 19.54, 21.08, 21.35, 21.62, 23.08, 23.36, 23.63, 23.96];

// Controlling ON/OFF Model: ON periods [start, end]
const p1Ctrl = [[1.65, 2.18], [3.88, 4.42], [6.21, 6.74], [8.53, 9.07], [10.86, 11.4], [13.18, 13.72], [15.2, 15.78], [17.53, 18.07], [19.53, 20.07], [21.86, 22.4]];
const p2Ctrl = [[7.2, 7.85], [9.18, 9.85], [11.55, 12.1], [14.1, 14.73], [16.4, 17.0], [18.74, 24]];
const p3Ctrl = [[0, 0.68], [1.53, 2.3], [3.28, 4.05], [5.08, 5.85], [6.97, 7.75], [8.7, 9.42], [10.49, 11.14], [12.58, 13.25], [17.6, 18.25], [19.9, 20.6], [22.25, 22.92]];
const p4Ctrl = [[0, 0.58], [1.59, 2.37], [3.47, 4.2], [5.37, 6.1], [7.2, 7.97], [9.03, 9.8], [11.04, 11.77], [12.94, 13.67], [14.87, 15.6], [16.88, 17.56], [18.87, 19.56], [20.8, 21.48], [22.73, 23.4]];
const p5Ctrl = [[0.76, 1.53], [2.56, 3.28], [4.36, 5.14], [6.3, 7.03], [8.14, 8.92], [10.23, 10.86], [12.58, 13.24], [14.86, 15.59], [16.9, 17.66], [18.88, 19.64], [20.81, 21.59], [22.65, 23.51]];
const p6Ctrl = [[0.55, 1.1], [3.02, 3.57], [5.59, 6.14], [8.11, 8.7], [10.49, 11.08], [12.88, 13.46], [15.02, 15.6], [17.12, 17.67], [19.23, 19.87], [21.47, 22.12], [23.66, 24]];
const p7Ctrl = [[1.23, 1.9], [3.25, 3.88], [5.41, 6.05], [7.62, 8.21], [9.71, 10.38], [11.79, 12.42], [13.95, 14.53], [16.21, 16.79]];
const p8Ctrl = [[0.31, 1.0], [2.43, 3.05], [4.52, 5.17], [6.62, 7.22], [8.59, 9.23], [10.79, 11.39], [12.83, 13.47], [15.17, 15.81], [17.59, 18.19], [19.93, 20.53], [22.52, 23.09]];
const p9Ctrl = [[1.85, 2.4], [4.12, 4.66], [6.35, 6.9], [8.75, 16.0], [17.1, 17.82], [19.15, 19.85], [21.13, 21.78], [23.12, 23.77]];
const p10Ctrl = [[0.88, 1.6], [2.65, 2.92], [3.83, 4.62], [5.66, 5.93], [6.26, 7.03], [8.12, 8.85], [10.04, 10.68], [12.19, 12.77], [14.42, 15.02], [16.39, 17.06], [18.25, 18.89], [20.26, 20.86], [22.23, 22.86]];

// Axis ranges [min, max, interval]
const yRanges = [[20, 24, 0.5], [14, 24, 2], [20, 24, 0.5], [20, 24, 0.5], [20, 24, 0.5], [20, 24, 0.5], [18, 24, 1], [20, 24, 0.5], [14, 24, 2], [20, 24, 0.5]];

const legendNames = ['ON/OFF Data', 'Controlling ON/OFF Model', 'Indoor Temperature Data', 'Set Point', 'Indoor Temperature Model', 'Controlling Indoor Temperature Model'];
const coefLabels = ['1', '2', '3', '4', '5', '6', '7', '8', '9', '10', '11', '12'];
const coefValues = ['1.771', '0.878', '0.690', '0.797', '0.523', '0.331', '0.119', '4.077', '0.035', '0.357', '0.018', '6.075'];

const PANELS = [
  { black: p1Black, orange: p1Orange, green: p1Green, set: spConstant, spikes: p1Spikes, ctrl: p1Ctrl },
  { black: p2Black, orange: p2Orange, green: p2Green, set: p2Set, spikes: p2Spikes, ctrl: p2Ctrl },
  { black: p3Black, orange: p3Orange, green: p3Green, set: p3Set, spikes: p3Spikes, ctrl: p3Ctrl },
  { black: p4Black, orange: p4Orange, green: p4Green, set: spConstant, spikes: p4Spikes, ctrl: p4Ctrl },
  { black: p5Black, orange: p5Orange, green: p5Green, set: spConstant, spikes: p5Spikes, ctrl: p5Ctrl },
  { black: p6Black, orange: p6Orange, green: p6Green, set: spConstant, spikes: p6Spikes, ctrl: p6Ctrl },
  { black: p7Black, orange: p7Orange, green: p7Green, set: p7Set, spikes: p7Spikes, ctrl: p7Ctrl },
  { black: p8Black, orange: p8Orange, green: p8Green, set: spConstant, spikes: p8Spikes, ctrl: p8Ctrl },
  { black: p9Black, orange: p9Orange, green: p9Green, set: p9Set, spikes: p9Spikes, ctrl: p9Ctrl },
  { black: p10Black, orange: p10Orange, green: p10Green, set: spConstant, spikes: p10Spikes, ctrl: p10Ctrl },
];

// ---------------- LAYOUT / STYLE ----------------
const STEP = 0.25;
const SPIKE_HALF = 0.12;
const RAMP = 0.07;
const ROW_TOP = [12, 221, 432, 641, 852];
const LEFT_X = [65, 67, 67, 68, 70];
const PLOT_H = 176;
const NAME_GAP_LEFT = [43, 43, 43, 32, 32];
const NAME_GAP_RIGHT = [32, 43, 43, 43, 43];
const C_BLACK = '#000000';
const C_GREEN = '#00B050';
const C_BLUE = '#2E75B6';
const C_ORANGE = '#ED7D31';
const SERIF = '"Liberation Serif", "DejaVu Serif", serif';
const NARROW = '"Liberation Sans Narrow", "DejaVu Sans Condensed", "Arial Narrow", sans-serif';

function toPairs(arr: any[]) {
  return typeof arr[0] === 'number' ? arr.map((v: number, i: number) => [i * STEP, v]) : arr;
}
function spikeData(spikes: any[]) {
  const out: number[][] = [[0, 0]];
  for (const s of spikes) {
    const t = Array.isArray(s) ? s[0] : s;
    const h = Array.isArray(s) ? s[1] : 1;
    out.push([Math.max(0, t - SPIKE_HALF), 0], [t, h], [Math.min(24, t + SPIKE_HALF), 0]);
  }
  out.push([24, 0]);
  return out;
}
function blockData(blocks: number[][]) {
  const out: number[][] = [[0, 0]];
  for (const [s, e] of blocks) {
    out.push([s, 0], [s + RAMP, 1], [e - RAMP, 1], [e, 0]);
  }
  out.push([24, 0]);
  return out;
}

function buildOption() {
  const grid: any[] = [];
  const xAxis: any[] = [];
  const yAxis: any[] = [];
  const series: any[] = [];
  PANELS.forEach((p, i) => {
    const row = Math.floor(i / 2);
    const col = i % 2;
    const left = col === 0 ? LEFT_X[row] : 628;
    const right = col === 0 ? 541 : 1096;
    grid.push({ left, top: ROW_TOP[row], width: right - left, height: PLOT_H });
    xAxis.push({
      type: 'value', gridIndex: i, min: 0, max: 24, interval: 3,
      axisLine: { show: true, lineStyle: { color: '#BFBFBF', width: 1 } },
      axisTick: { show: false },
      splitLine: { show: false },
      axisLabel: {
        margin: 9, color: '#595959', fontFamily: SERIF, fontSize: 15,
        formatter: (v: number) => `${v % 24}:00`,
      },
    });
    const [mn, mx, iv] = yRanges[i];
    yAxis.push({
      type: 'value', gridIndex: i, min: mn, max: mx, interval: iv,
      name: 'Temperature [°C]', nameLocation: 'middle',
      nameGap: col === 0 ? NAME_GAP_LEFT[row] : NAME_GAP_RIGHT[row],
      nameTextStyle: { fontFamily: SERIF, fontWeight: 'bold', fontSize: 15, color: '#000' },
      axisLine: { show: true, lineStyle: { color: '#BFBFBF', width: 1 } },
      axisTick: { show: false },
      splitLine: { show: true, lineStyle: { color: '#D9D9D9', width: 1 } },
      axisLabel: { margin: 8, color: '#595959', fontFamily: SERIF, fontSize: 15 },
    });
    yAxis.push({
      type: 'value', gridIndex: i, min: 0, max: 7, interval: 1, position: 'right',
      axisLine: { show: true, lineStyle: { color: '#BFBFBF', width: 1 } },
      axisTick: { show: true, inside: false, length: 4, lineStyle: { color: '#BFBFBF' } },
      axisLabel: { show: false },
      splitLine: { show: false },
    });
    const pri = 2 * i;
    const sec = 2 * i + 1;
    series.push({
      name: legendNames[0], type: 'line', xAxisIndex: i, yAxisIndex: sec, data: spikeData(p.spikes),
      symbol: 'none', silent: true, clip: true,
      lineStyle: { width: 0, opacity: 0, color: C_BLACK }, areaStyle: { color: C_BLACK, opacity: 1, origin: 'start' },
    });
    series.push({
      name: legendNames[1], type: 'line', xAxisIndex: i, yAxisIndex: sec, data: blockData(p.ctrl),
      symbol: 'none', silent: true, clip: true,
      lineStyle: { width: 0, opacity: 0, color: C_GREEN }, areaStyle: { color: C_GREEN, opacity: 1, origin: 'start' },
    });
    series.push({
      name: legendNames[2], type: 'line', xAxisIndex: i, yAxisIndex: pri, data: toPairs(p.black),
      symbol: 'none', silent: true, clip: true, lineStyle: { width: 2.6, color: C_BLACK },
    });
    series.push({
      name: legendNames[3], type: 'line', xAxisIndex: i, yAxisIndex: pri, data: p.set,
      symbol: 'none', silent: true, clip: true, lineStyle: { width: 2.8, color: C_BLUE },
    });
    series.push({
      name: legendNames[4], type: 'line', xAxisIndex: i, yAxisIndex: pri, data: toPairs(p.orange),
      symbol: 'none', silent: true, clip: true, lineStyle: { width: 2.2, color: C_ORANGE },
    });
    series.push({
      name: legendNames[5], type: 'line', xAxisIndex: i, yAxisIndex: pri, data: p.green,
      symbol: 'none', silent: true, clip: true, lineStyle: { width: 2.6, color: C_GREEN },
    });
  });

  // Legend box (graphic)
  const g: any[] = [];
  g.push({ type: 'rect', shape: { x: 60.5, y: 1058.5, width: 1030, height: 52 }, style: { fill: '#fff', stroke: '#7F7F7F', lineWidth: 1 } });
  const lx = [75, 419, 764];
  const ly = [1071, 1098];
  const legendTextStyle = (t: string, x: number, y: number) => ({
    type: 'text', x, y, style: { text: t, font: `17px ${SERIF}`, fill: '#262626', align: 'left', verticalAlign: 'middle' },
  });
  g.push({ type: 'rect', shape: { x: lx[0], y: ly[0] - 5, width: 38, height: 10 }, style: { fill: C_BLACK } });
  g.push(legendTextStyle(legendNames[0], lx[0] + 40, ly[0]));
  g.push({ type: 'rect', shape: { x: lx[1], y: ly[0] - 5, width: 38, height: 10 }, style: { fill: C_GREEN } });
  g.push(legendTextStyle(legendNames[1], lx[1] + 40, ly[0]));
  g.push({ type: 'line', shape: { x1: lx[2], y1: ly[0], x2: lx[2] + 40, y2: ly[0] }, style: { stroke: C_BLACK, lineWidth: 3 } });
  g.push(legendTextStyle(legendNames[2], lx[2] + 43, ly[0]));
  g.push({ type: 'line', shape: { x1: lx[0], y1: ly[1], x2: lx[0] + 38, y2: ly[1] }, style: { stroke: C_BLUE, lineWidth: 3 } });
  g.push({ type: 'line', shape: { x1: lx[0], y1: ly[1], x2: lx[0] + 3, y2: ly[1] }, style: { stroke: '#C00000', lineWidth: 3 } });
  g.push(legendTextStyle(legendNames[3], lx[0] + 40, ly[1]));
  g.push({ type: 'line', shape: { x1: lx[1], y1: ly[1], x2: lx[1] + 38, y2: ly[1] }, style: { stroke: C_ORANGE, lineWidth: 3 } });
  g.push(legendTextStyle(legendNames[4], lx[1] + 40, ly[1]));
  g.push({ type: 'line', shape: { x1: lx[2], y1: ly[1], x2: lx[2] + 40, y2: ly[1] }, style: { stroke: C_GREEN, lineWidth: 3.5 } });
  g.push({ type: 'line', shape: { x1: lx[2], y1: ly[1], x2: lx[2] + 40, y2: ly[1] }, style: { stroke: '#7FD8A4', lineWidth: 1, lineDash: [1, 2] } });
  g.push(legendTextStyle(legendNames[5], lx[2] + 43, ly[1]));

  // Table
  const tTop = 1114, tMid = 1140, tBot = 1165, tLeft = 50, tRight = 1092, firstCol = 157;
  const colW = (tRight - firstCol) / coefLabels.length;
  g.push({ type: 'line', shape: { x1: tLeft, y1: tTop, x2: tRight, y2: tTop }, style: { stroke: '#000', lineWidth: 1.2 } });
  g.push({ type: 'line', shape: { x1: tLeft, y1: tMid, x2: tRight, y2: tMid }, style: { stroke: '#000', lineWidth: 2.5 } });
  g.push({ type: 'line', shape: { x1: tLeft, y1: tBot, x2: tRight, y2: tBot }, style: { stroke: '#000', lineWidth: 1.2 } });
  for (let k = 0; k <= coefLabels.length; k++) {
    const x = Math.round(firstCol + k * colW) + 0.5;
    g.push({ type: 'line', shape: { x1: x, y1: tTop, x2: x, y2: tBot }, style: { stroke: '#404040', lineWidth: 1 } });
  }
  const cellText = (t: string, x: number, y: number, bold: boolean) => ({
    type: 'text', x, y,
    style: { text: t, font: `${bold ? 'bold ' : ''}18px ${NARROW}`, fill: '#000', align: 'center', verticalAlign: 'middle' },
  });
  g.push(cellText('Coefficient', (tLeft + firstCol) / 2 + 1, (tTop + tMid) / 2 + 1, true));
  g.push(cellText('Value', (tLeft + firstCol) / 2 + 1, (tMid + tBot) / 2 + 1, true));
  coefLabels.forEach((c, k) => {
    const cx = firstCol + (k + 0.5) * colW;
    g.push(cellText(c, cx, (tTop + tMid) / 2 + 1, false));
    g.push(cellText(coefValues[k], cx, (tMid + tBot) / 2 + 1, false));
  });

  return {
    animation: false,
    backgroundColor: '#ffffff',
    grid, xAxis, yAxis, series,
    graphic: g,
  };
}

export default function App() {
  const ref = useRef<HTMLDivElement>(null);
  useEffect(() => {
    if (!ref.current) return;
    const chart = echarts.init(ref.current, undefined, { renderer: 'svg' });
    chart.setOption(buildOption() as any);
    return () => chart.dispose();
  }, []);
  return (
    <div
      ref={ref}
      style={{ position: 'absolute', left: 0, top: 0, width: 1113, height: 1167, background: '#fff' }}
    />
  );
}
